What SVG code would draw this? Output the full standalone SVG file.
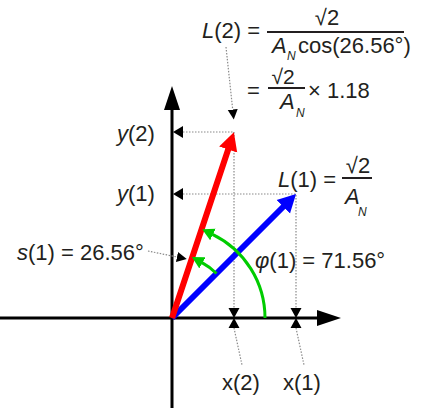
<svg xmlns="http://www.w3.org/2000/svg" width="435" height="413" viewBox="0 0 435 413">
<style>
text{font-family:"Liberation Sans",Arial,sans-serif;font-size:22px;fill:#231f20}
.i{font-style:italic}
.sub{font-size:12px;font-style:italic}
.dot{fill:none;stroke:#8a8a8a;stroke-width:1.2;stroke-dasharray:1.5 1.5}
.axis{stroke:#000;stroke-width:3;fill:none}
.frac{stroke:#231f20;stroke-width:2}
.ink{fill:#000}
</style>
<defs>
<marker id="axhead" viewBox="0 -9 25 18" refX="0" refY="0" markerWidth="25" markerHeight="18" markerUnits="userSpaceOnUse" orient="auto"><path d="M0,-8 L24,0 L0,8 z" fill="#000"/></marker>
<marker id="redhead" viewBox="0 -10 18 20" refX="1" refY="0" markerWidth="18" markerHeight="20" markerUnits="userSpaceOnUse" orient="auto"><path d="M0,-9.5 L18,0 L0,9.5 z" fill="#ff0000"/></marker>
<marker id="bluehead" viewBox="0 -10 18 20" refX="1" refY="0" markerWidth="18" markerHeight="20" markerUnits="userSpaceOnUse" orient="auto"><path d="M0,-9.5 L18,0 L0,9.5 z" fill="#0000ff"/></marker>
<marker id="greenhead" viewBox="0 -7 13 14" refX="0.5" refY="0" markerWidth="13" markerHeight="14" markerUnits="userSpaceOnUse" orient="auto"><path d="M0,-6.5 L12,0 L0,6.5 z" fill="#00cc00"/></marker>
<marker id="dothead" viewBox="0 -6 11 12" refX="0" refY="0" markerWidth="11" markerHeight="12" markerUnits="userSpaceOnUse" orient="auto"><path d="M0,-5 L10,0 L0,5 z" fill="#000"/></marker>
<path id="ytick" d="M0,0 L10,-6 L10,6 z"/>
<path id="bowtie" d="M-5.5,-10 L5.5,-10 L0,0 z M0,0 L5.5,10 L-5.5,10 z"/>
</defs>

<g id="axes">
<line class="axis" x1="0" y1="318" x2="317" y2="318" marker-end="url(#axhead)"/>
<line class="axis" x1="172" y1="408" x2="172" y2="110" marker-end="url(#axhead)"/>
</g>

<g id="connectors">
<path class="dot" d="M183,132 H234 V308"/>
<path class="dot" d="M183,194 H296 V308"/>
<path class="dot" d="M234,328 L242,365"/>
<path class="dot" d="M296,328 L304,365"/>
<path class="dot" d="M226,47 L232.7,109.5" marker-end="url(#dothead)"/>
<path class="dot" d="M148,251 L177,257" marker-end="url(#dothead)"/>
<use href="#ytick" x="173" y="132" class="ink"/>
<use href="#ytick" x="173" y="194" class="ink"/>
<use href="#bowtie" x="234" y="318" class="ink"/>
<use href="#bowtie" x="296" y="318" class="ink"/>
</g>

<g id="vector-L1">
<line x1="172" y1="318" x2="284" y2="206" stroke="#0000ff" stroke-width="6" marker-end="url(#bluehead)"/>
</g>
<g id="vector-L2">
<line x1="172" y1="318" x2="228.5" y2="148.5" stroke="#ff0000" stroke-width="6" marker-end="url(#redhead)"/>
</g>

<g id="angle-phi">
<path d="M265,318 A93,93 0 0 0 212.5,234.3" fill="none" stroke="#00cc00" stroke-width="3" marker-end="url(#greenhead)"/>
</g>
<g id="angle-s">
<path d="M216.5,273.5 A63,63 0 0 0 202,262.6" fill="none" stroke="#00cc00" stroke-width="3" marker-end="url(#greenhead)"/>
</g>

<g id="label-L2">
<text x="202" y="38"><tspan class="i">L</tspan>(2) =</text>
<text x="327" y="25" text-anchor="middle">√2</text>
<line class="frac" x1="267" y1="32" x2="404" y2="32"/>
<text x="272" y="53"><tspan class="i">A</tspan></text>
<text x="287" y="60" class="sub">N</text>
<text x="298" y="53">cos(26.56°)</text>
<text x="247" y="98">=</text>
<text x="283" y="84" text-anchor="middle" style="font-size:21px">√2</text>
<line class="frac" x1="268" y1="88" x2="305" y2="88"/>
<text x="280" y="109"><tspan class="i">A</tspan></text>
<text x="296" y="117" class="sub">N</text>
<text x="308" y="98">× 1.18</text>
</g>

<g id="label-L1">
<text x="278" y="187"><tspan class="i">L</tspan>(1) =</text>
<text x="358" y="173" text-anchor="middle">√2</text>
<line class="frac" x1="342" y1="178" x2="372" y2="178"/>
<text x="345" y="204"><tspan class="i">A</tspan></text>
<text x="358" y="216" class="sub">N</text>
</g>

<g id="label-y2"><text x="117" y="141"><tspan class="i">y</tspan>(2)</text></g>
<g id="label-y1"><text x="117" y="201"><tspan class="i">y</tspan>(1)</text></g>
<g id="label-s1"><text x="17" y="260"><tspan class="i">s</tspan>(1) = 26.56°</text></g>
<g id="label-phi1"><text x="255" y="268"><tspan class="i">φ</tspan>(1) = 71.56°</text></g>
<g id="label-x2"><text x="222" y="390">x(2)</text></g>
<g id="label-x1"><text x="283" y="390">x(1)</text></g>
</svg>
